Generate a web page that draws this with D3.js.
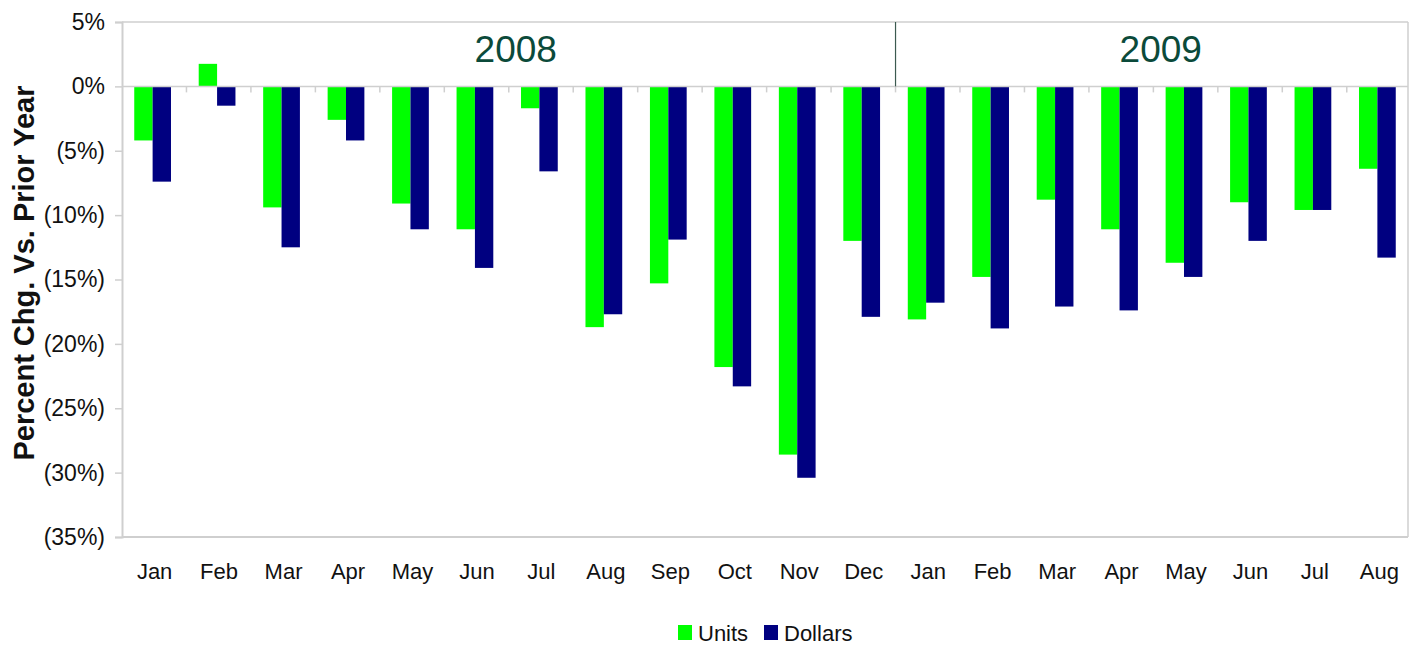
<!DOCTYPE html>
<html>
<head>
<meta charset="utf-8">
<script src="https://cdnjs.cloudflare.com/ajax/libs/d3/7.8.5/d3.min.js"></script>
<style>
  body { margin: 0; background: #fff; }
  text { font-family: "Liberation Sans", Arial, sans-serif; }
</style>
</head>
<body>
<div id="chart"></div>
<script>
var svgWidth = 1417;
var svgHeight = 649;

// data (percent change vs. prior year)
var months = ["Jan", "Feb", "Mar", "Apr", "May", "Jun", "Jul", "Aug", "Sep", "Oct", "Nov", "Dec",
              "Jan", "Feb", "Mar", "Apr", "May", "Jun", "Jul", "Aug"];
var years = ["2008", "2009"];
var monthsPerYear = [12, 8];
var units = [-4.2, 1.75, -9.4, -2.6, -9.1, -11.1, -1.7, -18.7, -15.3, -21.8, -28.6, -12.0,
             -18.1, -14.8, -8.8, -11.1, -13.7, -9.0, -9.6, -6.4];
var dollars = [-7.4, -1.5, -12.5, -4.2, -11.1, -14.1, -6.6, -17.7, -11.9, -23.3, -30.4, -17.9,
               -16.8, -18.8, -17.1, -17.4, -14.8, -12.0, -9.6, -13.3];
var seriesNames = ["Units", "Dollars"];
var seriesColors = ["#00ff00", "#000080"];
var yTicks = [5, 0, -5, -10, -15, -20, -25, -30, -35];

var margin = { top: 22, right: 9, bottom: 112, left: 122 };
var width = svgWidth - margin.left - margin.right;
var height = svgHeight - margin.top - margin.bottom;

var svg = d3.select("#chart")
  .append("svg")
  .attr("width", svgWidth)
  .attr("height", svgHeight);

var chartGroup = svg.append("g")
  .attr("transform", `translate(${margin.left}, ${margin.top})`);

var data = months.map(function (m, i) {
  return { key: i, month: m, values: [units[i], dollars[i]] };
});

var xScale = d3.scaleBand()
  .domain(data.map(d => d.key))
  .range([0, width])
  .paddingInner(0.43)
  .paddingOuter(0.19);

var xSub = d3.scaleBand()
  .domain([0, 1])
  .range([0, xScale.bandwidth()]);

var yScale = d3.scaleLinear()
  .domain([-35, 5])
  .range([height, 0]);

var step = xScale.step();
var gridColor = "#cfcfcf";

// frame: top line at 5% and right edge
chartGroup.append("line")
  .attr("x1", 0).attr("x2", width)
  .attr("y1", yScale(5)).attr("y2", yScale(5))
  .attr("stroke", gridColor).attr("stroke-width", 1.5);
chartGroup.append("line")
  .attr("x1", width).attr("x2", width)
  .attr("y1", yScale(5)).attr("y2", yScale(-35))
  .attr("stroke", gridColor).attr("stroke-width", 1.5);

// y axis
var leftAxis = d3.axisLeft(yScale)
  .tickValues(yTicks)
  .tickSize(7)
  .tickPadding(10)
  .tickFormat(d => d < 0 ? "(" + Math.abs(d) + "%)" : d + "%");

var yAxisG = chartGroup.append("g").call(leftAxis);
yAxisG.select(".domain").attr("stroke", gridColor).attr("stroke-width", 2);
yAxisG.selectAll(".tick line").attr("stroke", gridColor).attr("stroke-width", 1.5);
yAxisG.selectAll(".tick text")
  .attr("font-size", 23)
  .attr("fill", "#111")
  .attr("x", -17);

// bottom axis line at (35%)
chartGroup.append("line")
  .attr("x1", 0).attr("x2", width)
  .attr("y1", yScale(-35)).attr("y2", yScale(-35))
  .attr("stroke", gridColor).attr("stroke-width", 2);

// month labels
chartGroup.selectAll(".month")
  .data(data)
  .enter()
  .append("text")
  .attr("class", "month")
  .attr("x", d => xScale(d.key) + xScale.bandwidth() / 2 + 2)
  .attr("y", height + 42)
  .attr("text-anchor", "middle")
  .attr("font-size", 22)
  .attr("fill", "#111")
  .text(d => d.month);

// bars
var groups = chartGroup.selectAll(".grp")
  .data(data)
  .enter()
  .append("g")
  .attr("class", "grp")
  .attr("transform", d => `translate(${xScale(d.key)}, 0)`);

groups.selectAll("rect")
  .data(d => d.values.map((v, j) => ({ v: v, j: j })))
  .enter()
  .append("rect")
  .attr("x", d => xSub(d.j))
  .attr("width", xSub.bandwidth())
  .attr("y", d => yScale(Math.max(0, d.v)))
  .attr("height", d => Math.abs(yScale(d.v) - yScale(0)))
  .attr("fill", d => seriesColors[d.j]);

// zero line with category ticks
chartGroup.append("line")
  .attr("x1", 0).attr("x2", width)
  .attr("y1", yScale(0)).attr("y2", yScale(0))
  .attr("stroke", gridColor).attr("stroke-width", 1.5);

chartGroup.selectAll(".ztick")
  .data(d3.range(1, months.length))
  .enter()
  .append("line")
  .attr("x1", i => i * step).attr("x2", i => i * step)
  .attr("y1", yScale(0)).attr("y2", yScale(0) + 6)
  .attr("stroke", gridColor).attr("stroke-width", 1.5);

// year divider and labels
var splitX = monthsPerYear[0] * step;
chartGroup.append("line")
  .attr("x1", splitX).attr("x2", splitX)
  .attr("y1", yScale(5)).attr("y2", yScale(0))
  .attr("stroke", "#3c5a50").attr("stroke-width", 1.2);

var yearCenters = [splitX / 2 + 7, splitX + (width - splitX) / 2 + 9];
chartGroup.selectAll(".year")
  .data(years)
  .enter()
  .append("text")
  .attr("class", "year")
  .attr("x", (d, i) => yearCenters[i])
  .attr("y", 40)
  .attr("text-anchor", "middle")
  .attr("font-size", 37)
  .attr("fill", "#0b4a3a")
  .text(d => d);

// y axis title
svg.append("text")
  .attr("transform", `translate(34, ${margin.top + yScale(-14.5)}) rotate(-90)`)
  .attr("text-anchor", "middle")
  .attr("font-size", 29)
  .attr("font-weight", "bold")
  .attr("fill", "#111")
  .text("Percent Chg. Vs. Prior Year");

// legend
var legend = svg.append("g").attr("transform", "translate(678, 633)");
var legendX = [0, 86];
seriesNames.forEach(function (name, i) {
  legend.append("rect")
    .attr("x", legendX[i]).attr("y", -8)
    .attr("width", 14).attr("height", 15)
    .attr("fill", seriesColors[i]);
  legend.append("text")
    .attr("x", legendX[i] + 20).attr("y", 8)
    .attr("font-size", 22)
    .attr("fill", "#111")
    .text(name);
});
</script>
</body>
</html>
